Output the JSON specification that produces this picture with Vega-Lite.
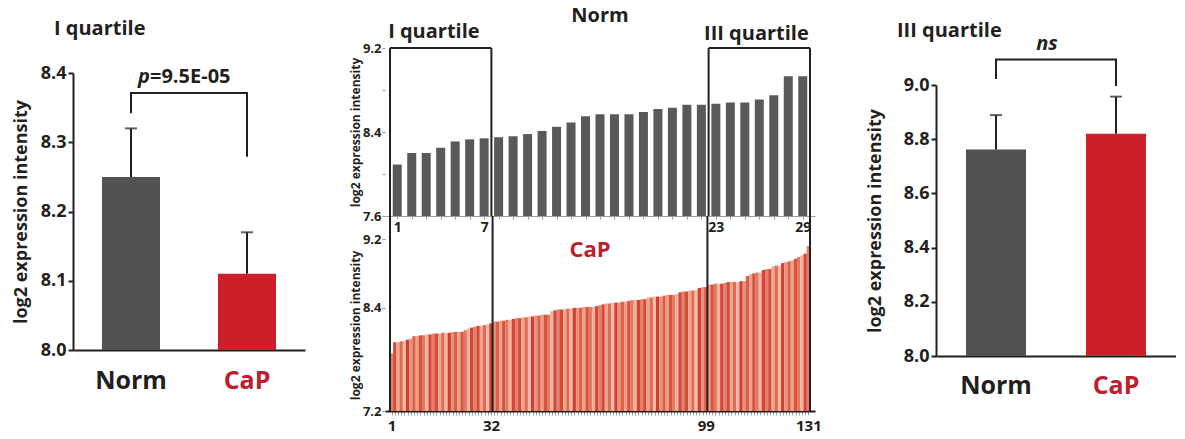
{
  "$schema": "https://vega.github.io/schema/vega-lite/v6.json",
  "padding": {"left": 12, "top": 5, "right": 0, "bottom": 0},
  "spacing": 44,
  "resolve": {"scale": {"color": "independent"}},
  "config": {
    "font": "Open Sans",
    "view": {"stroke": null},
    "axis": {"grid": false, "labelFont": "Open Sans", "titleFont": "Open Sans"},
    "title": {"font": "Open Sans"}
  },
  "datasets": {
    "q1": [{"group": "Norm", "v": 8.25, "u": 8.32}, {"group": "CaP", "v": 8.11, "u": 8.17}],
    "q1bracket": [{"group": "Norm", "v": 8.342, "k": 1}, {"group": "Norm", "v": 8.371, "k": 2}, {"group": "CaP", "v": 8.371, "k": 3}, {"group": "CaP", "v": 8.279, "k": 4}],
    "q1label": [{"group": "Norm", "v": 8.394, "p": "p", "rest": "=9.5E-05"}],
    "q3": [{"group": "Norm", "v": 8.762, "u": 8.889}, {"group": "CaP", "v": 8.82, "u": 8.957}],
    "q3bracket": [{"group": "Norm", "v": 9.022, "k": 1}, {"group": "Norm", "v": 9.094, "k": 2}, {"group": "CaP", "v": 9.094, "k": 3}, {"group": "CaP", "v": 8.996, "k": 4}],
    "q3label": [{"group": "Norm", "v": 9.151, "t": "ns"}],
    "norm": [{"i":1,"v":8.09},{"i":2,"v":8.2},{"i":3,"v":8.2},{"i":4,"v":8.25},{"i":5,"v":8.31},{"i":6,"v":8.33},{"i":7,"v":8.34},{"i":8,"v":8.35},{"i":9,"v":8.36},{"i":10,"v":8.38},{"i":11,"v":8.41},{"i":12,"v":8.45},{"i":13,"v":8.49},{"i":14,"v":8.55},{"i":15,"v":8.57},{"i":16,"v":8.57},{"i":17,"v":8.57},{"i":18,"v":8.59},{"i":19,"v":8.62},{"i":20,"v":8.63},{"i":21,"v":8.66},{"i":22,"v":8.66},{"i":23,"v":8.67},{"i":24,"v":8.68},{"i":25,"v":8.68},{"i":26,"v":8.71},{"i":27,"v":8.75},{"i":28,"v":8.93},{"i":29,"v":8.93}],
    "normbox": [{"i": 0.5}, {"i": 7.5}, {"i": 22.5}, {"i": 29.5}],
    "normboxtop": [{"i": 0.5, "i2": 7.5, "v": 9.2}, {"i": 22.5, "i2": 29.5, "v": 9.2}],
    "normtext": [{"label": "Norm", "i": 15, "v": 9.505}, {"label": "I quartile", "i": 3.53, "v": 9.352}, {"label": "III quartile", "i": 25.8, "v": 9.333}],
    "cap": [{"i":1,"v":7.87},{"i":2,"v":8.0},{"i":3,"v":8.0},{"i":4,"v":8.01},{"i":5,"v":8.02},{"i":6,"v":8.03},{"i":7,"v":8.04},{"i":8,"v":8.07},{"i":9,"v":8.07},{"i":10,"v":8.08},{"i":11,"v":8.08},{"i":12,"v":8.09},{"i":13,"v":8.09},{"i":14,"v":8.1},{"i":15,"v":8.1},{"i":16,"v":8.1},{"i":17,"v":8.11},{"i":18,"v":8.11},{"i":19,"v":8.11},{"i":20,"v":8.12},{"i":21,"v":8.12},{"i":22,"v":8.12},{"i":23,"v":8.12},{"i":24,"v":8.14},{"i":25,"v":8.16},{"i":26,"v":8.17},{"i":27,"v":8.18},{"i":28,"v":8.19},{"i":29,"v":8.19},{"i":30,"v":8.2},{"i":31,"v":8.21},{"i":32,"v":8.22},{"i":33,"v":8.24},{"i":34,"v":8.24},{"i":35,"v":8.25},{"i":36,"v":8.25},{"i":37,"v":8.26},{"i":38,"v":8.26},{"i":39,"v":8.27},{"i":40,"v":8.28},{"i":41,"v":8.28},{"i":42,"v":8.29},{"i":43,"v":8.29},{"i":44,"v":8.3},{"i":45,"v":8.3},{"i":46,"v":8.31},{"i":47,"v":8.31},{"i":48,"v":8.32},{"i":49,"v":8.32},{"i":50,"v":8.32},{"i":51,"v":8.36},{"i":52,"v":8.37},{"i":53,"v":8.38},{"i":54,"v":8.38},{"i":55,"v":8.38},{"i":56,"v":8.39},{"i":57,"v":8.39},{"i":58,"v":8.4},{"i":59,"v":8.4},{"i":60,"v":8.4},{"i":61,"v":8.41},{"i":62,"v":8.41},{"i":63,"v":8.41},{"i":64,"v":8.41},{"i":65,"v":8.42},{"i":66,"v":8.43},{"i":67,"v":8.44},{"i":68,"v":8.45},{"i":69,"v":8.45},{"i":70,"v":8.46},{"i":71,"v":8.46},{"i":72,"v":8.46},{"i":73,"v":8.47},{"i":74,"v":8.47},{"i":75,"v":8.48},{"i":76,"v":8.49},{"i":77,"v":8.49},{"i":78,"v":8.49},{"i":79,"v":8.5},{"i":80,"v":8.5},{"i":81,"v":8.52},{"i":82,"v":8.52},{"i":83,"v":8.53},{"i":84,"v":8.53},{"i":85,"v":8.53},{"i":86,"v":8.54},{"i":87,"v":8.55},{"i":88,"v":8.55},{"i":89,"v":8.55},{"i":90,"v":8.56},{"i":91,"v":8.58},{"i":92,"v":8.59},{"i":93,"v":8.59},{"i":94,"v":8.6},{"i":95,"v":8.6},{"i":96,"v":8.61},{"i":97,"v":8.63},{"i":98,"v":8.64},{"i":99,"v":8.64},{"i":100,"v":8.67},{"i":101,"v":8.67},{"i":102,"v":8.68},{"i":103,"v":8.68},{"i":104,"v":8.68},{"i":105,"v":8.69},{"i":106,"v":8.7},{"i":107,"v":8.7},{"i":108,"v":8.7},{"i":109,"v":8.7},{"i":110,"v":8.71},{"i":111,"v":8.71},{"i":112,"v":8.77},{"i":113,"v":8.79},{"i":114,"v":8.8},{"i":115,"v":8.81},{"i":116,"v":8.81},{"i":117,"v":8.84},{"i":118,"v":8.85},{"i":119,"v":8.85},{"i":120,"v":8.88},{"i":121,"v":8.89},{"i":122,"v":8.89},{"i":123,"v":8.92},{"i":124,"v":8.93},{"i":125,"v":8.94},{"i":126,"v":8.95},{"i":127,"v":8.97},{"i":128,"v":8.99},{"i":129,"v":9.01},{"i":130,"v":9.03},{"i":131,"v":9.12}],
    "capbox": [{"i": 0.5}, {"i": 32.5}, {"i": 99.5}, {"i": 131.5}],
    "captext": [{"label": "CaP", "i": 62.9, "v": 9.07}]
  },
  "hconcat": [
    {
      "width": 232,
      "height": 302,
      "title": {"text": "I quartile", "anchor": "start", "frame": "group", "fontSize": 20, "fontWeight": "bold", "color": "#231f20", "offset": 9, "dx": -19},
      "encoding": {
        "x": {"field": "group", "type": "nominal", "scale": {"domain": ["Norm", "CaP"], "paddingInner": 0.5, "paddingOuter": 0.25},
          "axis": {"title": null, "labelAngle": 0, "labelFontSize": 25, "labelFontWeight": "bold", "labelColor": {"condition": {"test": "datum.value === 'CaP'", "value": "#be1e2d"}, "value": "#231f20"}, "ticks": false, "domainColor": "#231f20", "domainWidth": 2, "labelPadding": 18}},
        "y": {"field": "v", "type": "quantitative", "scale": {"domain": [8.0, 8.4], "range": [302, 25], "nice": false, "zero": false},
          "axis": {"title": "log2 expression intensity", "values": [8.0, 8.1, 8.2, 8.3, 8.4], "format": ".1f", "labelFontSize": 18, "labelFontWeight": "bold", "labelColor": "#231f20", "titleFontSize": 18, "titleFontWeight": "bold", "titleColor": "#231f20", "domainColor": "#231f20", "domainWidth": 2, "tickColor": "#231f20", "tickWidth": 2, "tickSize": 5, "labelPadding": 2, "titlePadding": 10}}
      },
      "layer": [
        {"data": {"name": "q1"}, "mark": {"type": "bar"},
          "encoding": {"y2": {"datum": 8.0}, "color": {"field": "group", "type": "nominal", "scale": {"domain": ["Norm", "CaP"], "range": ["#515352", "#cc1f29"]}, "legend": null}}},
        {"data": {"name": "q1"}, "mark": {"type": "rule", "strokeWidth": 2, "color": "#231f20"}, "encoding": {"y2": {"field": "u"}}},
        {"data": {"name": "q1"}, "mark": {"type": "tick", "size": 12, "thickness": 2, "color": "#231f20"},
          "encoding": {"y": {"field": "u", "type": "quantitative", "scale": {"domain": [8.0, 8.4], "range": [302, 25], "nice": false, "zero": false}, "axis": {"title": "log2 expression intensity"}}}},
        {"data": {"name": "q1bracket"}, "mark": {"type": "line", "strokeWidth": 2, "color": "#231f20"}, "encoding": {"order": {"field": "k", "type": "quantitative"}}},
        {"data": {"name": "q1label"}, "mark": {"type": "text", "align": "right", "baseline": "middle", "fontSize": 20, "fontWeight": "bold", "fontStyle": "italic", "color": "#231f20", "dx": -10},
          "encoding": {"x": {"field": "group", "type": "nominal", "bandPosition": 1}, "text": {"field": "p"}}},
        {"data": {"name": "q1label"}, "mark": {"type": "text", "align": "left", "baseline": "middle", "fontSize": 20, "fontWeight": "bold", "color": "#231f20", "dx": -10},
          "encoding": {"x": {"field": "group", "type": "nominal", "bandPosition": 1}, "text": {"field": "rest"}}}
      ]
    },
    {
      "vconcat": [
        {
          "width": 430,
          "height": 168,
          "encoding": {
            "x": {"field": "i", "type": "quantitative", "scale": {"domain": [0.5, 29.5], "nice": false, "zero": false},
              "axis": {"title": null, "values": [1,2,3,4,5,6,7,8,9,10,11,12,13,14,15,16,17,18,19,20,21,22,23,24,25,26,27,28,29], "labelExpr": "indexof([1,7,23,29], datum.value) >= 0 ? datum.label : ''", "labelOverlap": false, "labelFontSize": 14, "labelFontWeight": "bold", "labelColor": "#231f20", "tickColor": "#9a9a9a", "tickSize": 3, "domainColor": "#9a9a9a", "domainWidth": 1, "labelPadding": 1}}
          },
          "layer": [
            {"data": {"name": "norm"}, "mark": {"type": "bar", "width": 9, "color": "#58595b"},
              "encoding": {
                "y": {"field": "v", "type": "quantitative", "scale": {"domain": [7.6, 9.2], "nice": false, "zero": false},
                  "axis": {"title": "log2 expression intensity", "values": [7.6, 7.8, 8.0, 8.2, 8.4, 8.6, 8.8, 9.0, 9.2], "labelExpr": "abs(datum.value-7.6)<0.01 || abs(datum.value-8.4)<0.01 || abs(datum.value-9.2)<0.01 ? format(datum.value, '.1f') : ''", "labelOverlap": false, "labelFontSize": 13, "labelFontWeight": "bold", "labelColor": "#231f20", "titleFontSize": 12, "titleFontWeight": "bold", "titleColor": "#231f20", "tickColor": "#9a9a9a", "tickSize": 3, "domain": false, "labelPadding": 1, "titlePadding": 0}},
                "y2": {"datum": 7.6}}},
            {"data": {"name": "normbox"}, "mark": {"type": "rule", "strokeWidth": 2, "color": "#231f20"}, "encoding": {}},
            {"data": {"name": "normboxtop"}, "mark": {"type": "rule", "strokeWidth": 2, "color": "#231f20"},
              "encoding": {"x2": {"field": "i2"}, "y": {"field": "v", "type": "quantitative"}}},
            {"data": {"name": "normtext"}, "mark": {"type": "text", "fontSize": 20, "fontWeight": "bold", "color": "#231f20", "baseline": "middle"},
              "encoding": {"y": {"field": "v", "type": "quantitative"}, "text": {"field": "label"}}}
          ]
        },
        {
          "width": 430,
          "height": 195,
          "encoding": {
            "x": {"field": "i", "type": "quantitative", "scale": {"domain": [0.5, 131.5], "nice": false, "zero": false},
              "axis": {"title": null, "values": [1,2,3,4,5,6,7,8,9,10,11,12,13,14,15,16,17,18,19,20,21,22,23,24,25,26,27,28,29,30,31,32,33,34,35,36,37,38,39,40,41,42,43,44,45,46,47,48,49,50,51,52,53,54,55,56,57,58,59,60,61,62,63,64,65,66,67,68,69,70,71,72,73,74,75,76,77,78,79,80,81,82,83,84,85,86,87,88,89,90,91,92,93,94,95,96,97,98,99,100,101,102,103,104,105,106,107,108,109,110,111,112,113,114,115,116,117,118,119,120,121,122,123,124,125,126,127,128,129,130,131], "labelExpr": "indexof([1,32,99,131], datum.value) >= 0 ? datum.label : ''", "labelOverlap": false, "labelFontSize": 15, "labelFontWeight": "bold", "labelColor": "#231f20", "tickColor": "#a0a0a0", "tickSize": 4, "domainColor": "#231f20", "domainWidth": 2, "labelPadding": 3}}
          },
          "layer": [
            {"data": {"name": "cap"}, "mark": {"type": "bar", "width": 3.4},
              "encoding": {
                "y": {"field": "v", "type": "quantitative", "scale": {"domain": [7.2, 9.2], "range": [195, 23], "nice": false, "zero": false},
                  "axis": {"title": "log2 expression intensity", "values": [7.2, 8.4, 9.2], "format": ".1f", "labelOverlap": false, "labelFontSize": 13, "labelFontWeight": "bold", "labelColor": "#231f20", "titleFontSize": 12, "titleFontWeight": "bold", "titleColor": "#231f20", "tickColor": "#9a9a9a", "tickSize": 3, "domain": false, "labelPadding": 1, "titlePadding": 0}},
                "y2": {"datum": 7.2},
                "color": {"field": "i", "type": "ordinal", "legend": null, "scale": {"range": ["#e4806a", "#d64a3a", "#eda892", "#e06a52", "#f0bca8", "#d43d35", "#e7947c", "#de5e48", "#eba28a", "#da533f", "#e27a62", "#efb49e", "#d5443a"]}}}},
            {"data": {"name": "capbox"}, "mark": {"type": "rule", "strokeWidth": 2, "color": "#231f20"}, "encoding": {}},
            {"data": {"name": "captext"}, "mark": {"type": "text", "fontSize": 22, "fontWeight": "bold", "color": "#be1e2d", "baseline": "middle"},
              "encoding": {"y": {"field": "v", "type": "quantitative"}, "text": {"field": "label"}}}
          ]
        }
      ],
      "spacing": 0,
      "bounds": "flush",
      "resolve": {"scale": {"color": "independent"}}
    },
    {
      "width": 240,
      "height": 308,
      "title": {"text": "III quartile", "anchor": "start", "frame": "group", "fontSize": 20, "fontWeight": "bold", "color": "#231f20", "offset": -7, "dx": -39},
      "encoding": {
        "x": {"field": "group", "type": "nominal", "scale": {"domain": ["Norm", "CaP"], "paddingInner": 0.5, "paddingOuter": 0.25},
          "axis": {"title": null, "labelAngle": 0, "labelFontSize": 25, "labelFontWeight": "bold", "labelColor": {"condition": {"test": "datum.value === 'CaP'", "value": "#be1e2d"}, "value": "#231f20"}, "ticks": false, "domainColor": "#231f20", "domainWidth": 2, "labelPadding": 17}},
        "y": {"field": "v", "type": "quantitative", "scale": {"domain": [8.0, 9.0], "range": [308, 37], "nice": false, "zero": false},
          "axis": {"title": "log2 expression intensity", "values": [8.0, 8.2, 8.4, 8.6, 8.8, 9.0], "format": ".1f", "labelFontSize": 18, "labelFontWeight": "bold", "labelColor": "#231f20", "titleFontSize": 18, "titleFontWeight": "bold", "titleColor": "#231f20", "domainColor": "#231f20", "domainWidth": 2, "tickColor": "#231f20", "tickWidth": 2, "tickSize": 5, "labelPadding": 2, "titlePadding": 19}}
      },
      "layer": [
        {"data": {"name": "q3"}, "mark": {"type": "bar"},
          "encoding": {"y2": {"datum": 8.0}, "color": {"field": "group", "type": "nominal", "scale": {"domain": ["Norm", "CaP"], "range": ["#515352", "#cc1f29"]}, "legend": null}}},
        {"data": {"name": "q3"}, "mark": {"type": "rule", "strokeWidth": 2, "color": "#231f20"}, "encoding": {"y2": {"field": "u"}}},
        {"data": {"name": "q3"}, "mark": {"type": "tick", "size": 12, "thickness": 2, "color": "#231f20"},
          "encoding": {"y": {"field": "u", "type": "quantitative", "scale": {"domain": [8.0, 9.0], "range": [308, 37], "nice": false, "zero": false}, "axis": {"title": "log2 expression intensity"}}}},
        {"data": {"name": "q3bracket"}, "mark": {"type": "line", "strokeWidth": 2, "color": "#231f20"}, "encoding": {"order": {"field": "k", "type": "quantitative"}}},
        {"data": {"name": "q3label"}, "mark": {"type": "text", "align": "center", "baseline": "middle", "fontSize": 20, "fontWeight": "bold", "fontStyle": "italic", "color": "#231f20", "dx": 21},
          "encoding": {"x": {"field": "group", "type": "nominal", "bandPosition": 1}, "text": {"field": "t"}}}
      ]
    }
  ]
}
